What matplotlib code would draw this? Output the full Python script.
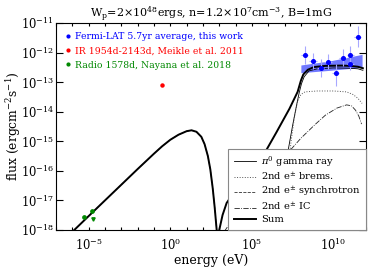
import numpy as np
import matplotlib
matplotlib.use('Agg')
import matplotlib.pyplot as plt
from matplotlib.lines import Line2D

plt.rcParams['font.family'] = 'DejaVu Serif'
plt.rcParams['mathtext.fontset'] = 'dejavuserif'

# model curves, log10(E/eV) and log10(flux)
sum_logE = [-6.3, -5.88, -5.0, -4.0, -3.0, -2.0, -1.0, -0.5, 0.0, 0.5, 1.0, 1.3, 1.6, 1.9, 2.1,
            2.3, 2.45, 2.6, 2.72, 2.84, 2.92, 3.0, 3.2, 3.45, 4.0, 5.0, 5.78, 6.5, 7.3, 7.8,
            8.0, 8.15, 8.43, 8.8, 9.5, 10.5, 11.0, 11.5, 11.8]
sum_logF = [-18.22, -18.0, -17.53, -17.0, -16.47, -15.94, -15.42, -15.17, -14.95, -14.78, -14.66,
            -14.63, -14.68, -14.85, -15.1, -15.5, -15.95, -16.6, -17.25, -18.0, -18.3, -18.0,
            -17.5, -17.09, -16.65, -15.95, -15.4, -14.7, -13.9, -13.33, -12.95, -12.74, -12.58,
            -12.49, -12.45, -12.44, -12.45, -12.48, -12.53]

sync_logE = sum_logE[:21]
sync_logF = sum_logF[:21]

pi0_logE = [6.3, 6.7, 7.0, 7.19, 7.5, 7.74, 7.9, 8.04, 8.2, 8.5, 9.0, 10.0, 11.0, 11.5, 11.8]
pi0_logF = [-18.2, -17.0, -16.0, -15.4, -14.45, -13.77, -13.35, -13.05, -12.82, -12.62, -12.55,
            -12.52, -12.53, -12.55, -12.6]

brems_logE = [6.8, 7.1, 7.4, 7.6, 7.8, 8.0, 8.25, 9.0, 10.0, 10.8, 11.2, 11.5, 11.75]
brems_logF = [-18.2, -16.6, -15.0, -14.2, -13.65, -13.42, -13.33, -13.3, -13.3, -13.33, -13.42,
              -13.55, -13.72]

ic_logE = [3.0, 4.0, 5.0, 6.0, 7.19, 8.0, 8.84, 9.5, 10.2, 10.8, 11.1, 11.35, 11.55, 11.72]
ic_logF = [-18.3, -17.5, -16.7, -16.0, -15.4, -14.9, -14.45, -14.12, -13.88, -13.77, -13.8,
           -13.95, -14.15, -14.42]

# Fermi-LAT points
fermi_logE = [8.23, 8.74, 9.21, 9.66, 10.13, 10.57, 11.02, 11.02, 11.49]
fermi_logF = [-12.08, -12.27, -12.53, -12.31, -12.68, -12.17, -12.08, -12.38, -11.46]
fermi_err_lo = [0.3, 0.3, 0.3, 0.25, 0.45, 0.3, 0.3, 0.2, 0.35]
fermi_err_hi = [0.3, 0.25, 0.3, 0.25, 0.3, 0.3, 0.3, 0.2, 0.35]
fermi_xerr = 0.22

# Fermi butterfly band
band_logE = [8.0, 9.8, 11.75]
band_hi = [-12.42, -12.28, -12.06]
band_lo = [-12.68, -12.6, -12.5]

# IR and radio
ir_logE = [-0.49]
ir_logF = [-13.1]
radio_logE = [-5.3, -4.77]
radio_logF = [-17.55, -17.35]
radio_ul_logE = [-4.75]
radio_ul_logF = [-17.62]

fig = plt.figure(figsize=(3.74, 2.74), dpi=100)
ax = fig.add_axes([0.150, 0.161, 0.829, 0.755])

E = lambda a: 10.0 ** np.array(a)

ax.fill_between(E(band_logE), E(band_lo), E(band_hi), color='#7079ff', lw=0, zorder=1)

fx = E(fermi_logE)
fy = E(fermi_logF)
yerr = [fy - fy * 10.0 ** -np.array(fermi_err_lo), fy * 10.0 ** np.array(fermi_err_hi) - fy]
xerr = [fx - fx * 10 ** -fermi_xerr, fx * 10 ** fermi_xerr - fx]
ax.errorbar(fx, fy, yerr=yerr, xerr=xerr, fmt='o', color='#0000ff', ms=2.6,
            ecolor='#a8a8ff', elinewidth=0.8, capsize=0, zorder=4)

ax.plot(E(ir_logE), E(ir_logF), 'o', color='#ff0000', ms=2.2, zorder=4)
ax.plot(E(radio_logE), E(radio_logF), 'o', color='#008800', ms=2.4, zorder=4)
ax.plot(E(radio_ul_logE), E(radio_ul_logF), 'v', color='#008800', ms=2.4, zorder=4)

l_pi0, = ax.plot(E(pi0_logE), E(pi0_logF), '-', color='black', lw=0.6, zorder=3)
l_brem, = ax.plot(E(brems_logE), E(brems_logF), ':', color='#555555', lw=0.7, zorder=3)
l_sync, = ax.plot(E(sync_logE), E(sync_logF), '--', color='#333333', lw=0.6, zorder=2)
l_ic, = ax.plot(E(ic_logE), E(ic_logF), '-.', color='#222222', lw=0.6, zorder=3)
l_sum, = ax.plot(E(sum_logE), E(sum_logF), '-', color='black', lw=1.4, zorder=3)

ax.set_xscale('log')
ax.set_yscale('log')
ax.set_xlim(1e-7, 1e12)
ax.set_ylim(1e-18, 1e-11)

ax.xaxis.set_major_locator(matplotlib.ticker.FixedLocator([1e-5, 1e0, 1e5, 1e10]))
ax.xaxis.set_minor_locator(matplotlib.ticker.FixedLocator([10.0 ** k for k in range(-7, 13)]))
ax.xaxis.set_minor_formatter(matplotlib.ticker.NullFormatter())
ax.yaxis.set_major_locator(matplotlib.ticker.FixedLocator([10.0 ** k for k in range(-18, -10)]))
ax.yaxis.set_minor_locator(matplotlib.ticker.NullLocator())
ax.tick_params(which='both', direction='in', top=True, right=True, labelsize=8.3, width=0.8)
ax.tick_params(axis='x', which='both', length=2.5, pad=5)
ax.tick_params(axis='y', which='major', length=5, pad=1.5)
for s in ax.spines.values():
    s.set_linewidth(0.8)

ax.set_xlabel('energy (eV)', fontsize=9, labelpad=1)
ax.set_ylabel('flux (ergcm$^{-2}$s$^{-1}$)', fontsize=8.8)
ax.yaxis.set_label_coords(-0.108, 0.5)
ax.set_title('W$_\\mathrm{p}$=2$\\times$10$^{48}$ergs, n=1.2$\\times$10$^{7}$cm$^{-3}$, B=1mG',
             fontsize=8, pad=4)

# data legend, upper left
data_handles = [Line2D([], [], ls='none', marker='o', ms=2, color=c)
                for c in ['#0000ff', '#ff0000', '#008800']]
data_labels = ['Fermi-LAT 5.7yr average, this work',
               'IR 1954d-2143d, Meikle et al. 2011',
               'Radio 1578d, Nayana et al. 2018']
leg1 = ax.legend(data_handles, data_labels, loc='upper left', frameon=False, fontsize=6.7,
                 handlelength=0.6, handletextpad=0.4, labelspacing=0.55, borderaxespad=0.6)
for t, c in zip(leg1.get_texts(), ['#0000ff', '#ff0000', '#008800']):
    t.set_color(c)
ax.add_artist(leg1)

model_labels = ['$\\pi^0$ gamma ray', '2nd e$^{\\pm}$ brems.', '2nd e$^{\\pm}$ synchrotron',
                '2nd e$^{\\pm}$ IC', 'Sum']
leg2 = ax.legend([l_pi0, l_brem, l_sync, l_ic, l_sum], model_labels, loc='lower right',
                 fontsize=7.1, fancybox=False, framealpha=1, edgecolor='#888888',
                 handlelength=2.3, handletextpad=0.5, labelspacing=0.2, borderaxespad=0.0,
                 borderpad=0.55)
leg2.get_frame().set_linewidth(0.8)

fig.savefig('out.png', dpi=100)
